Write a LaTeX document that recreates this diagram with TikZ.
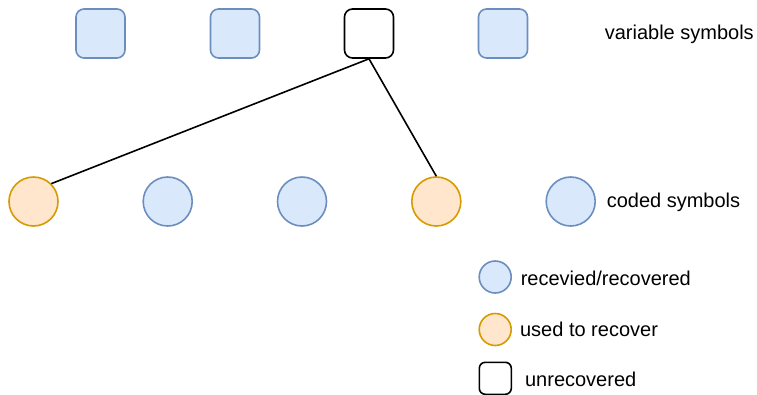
\documentclass[tikz,border=0pt]{standalone}
\usepackage{fontspec}
\setmainfont{Liberation Sans}
\begin{document}
\begin{tikzpicture}[x=1pt,y=-1pt,
  line width=1.6pt,
  varsym/.style={draw=#1, rounded corners=8pt, minimum size=49pt, inner sep=0pt},
  codesym/.style={draw=#1, circle, minimum size=49pt, inner sep=0pt},
  legcirc/.style={draw=#1, circle, minimum size=32pt, inner sep=0pt},
  label/.style={anchor=west, inner sep=0pt, font=\fontsize{20}{24}\selectfont},
  edge/.style={draw=black, line width=1.6pt}]
\definecolor{bluefill}{HTML}{DAE8FC}
\definecolor{bluedraw}{HTML}{6C8EBF}
\definecolor{orangefill}{HTML}{FFE6CC}
\definecolor{orangedraw}{HTML}{D79B00}
\useasboundingbox (0,0) rectangle (757,394);
\clip (0,0) rectangle (757,394);

% variable symbols
\node[varsym=bluedraw, fill=bluefill] (v1) at (100.5,33.5) {};
\node[varsym=bluedraw, fill=bluefill] (v2) at (235,33.5) {};
\node[varsym=black, fill=white] (v3) at (369,33.5) {};
\node[varsym=bluedraw, fill=bluefill] (v4) at (503,33.5) {};
\node[label] (vlab) at (604,34) {variable symbols};

% coded symbols
\node[codesym=orangedraw, fill=orangefill] (c1) at (33.5,201.5) {};
\node[codesym=bluedraw, fill=bluefill] (c2) at (167.7,201.5) {};
\node[codesym=bluedraw, fill=bluefill] (c3) at (302,201.5) {};
\node[codesym=orangedraw, fill=orangefill] (c4) at (436.3,201.5) {};
\node[codesym=bluedraw, fill=bluefill] (c5) at (570.7,201.5) {};
\node[label] (clab) at (606,202) {coded symbols};

% connections
\draw[edge] (v3.south) -- (c1.north east);
\draw[edge] (v3.south) -- (c4.north);

% legend
\node[legcirc=bluedraw, fill=bluefill] (l1) at (495.2,277) {};
\node[label] (l1t) at (520,278) {recevied/recovered};
\node[legcirc=orangedraw, fill=orangefill] (l2) at (495.2,329.5) {};
\node[label] (l2t) at (519.3,329.5) {used to recover};
\node[varsym=black, fill=white, minimum size=32pt, rounded corners=6pt] (l3) at (495.3,378.3) {};
\node[label] (l3t) at (524.3,379) {unrecovered};
\end{tikzpicture}
\end{document}
